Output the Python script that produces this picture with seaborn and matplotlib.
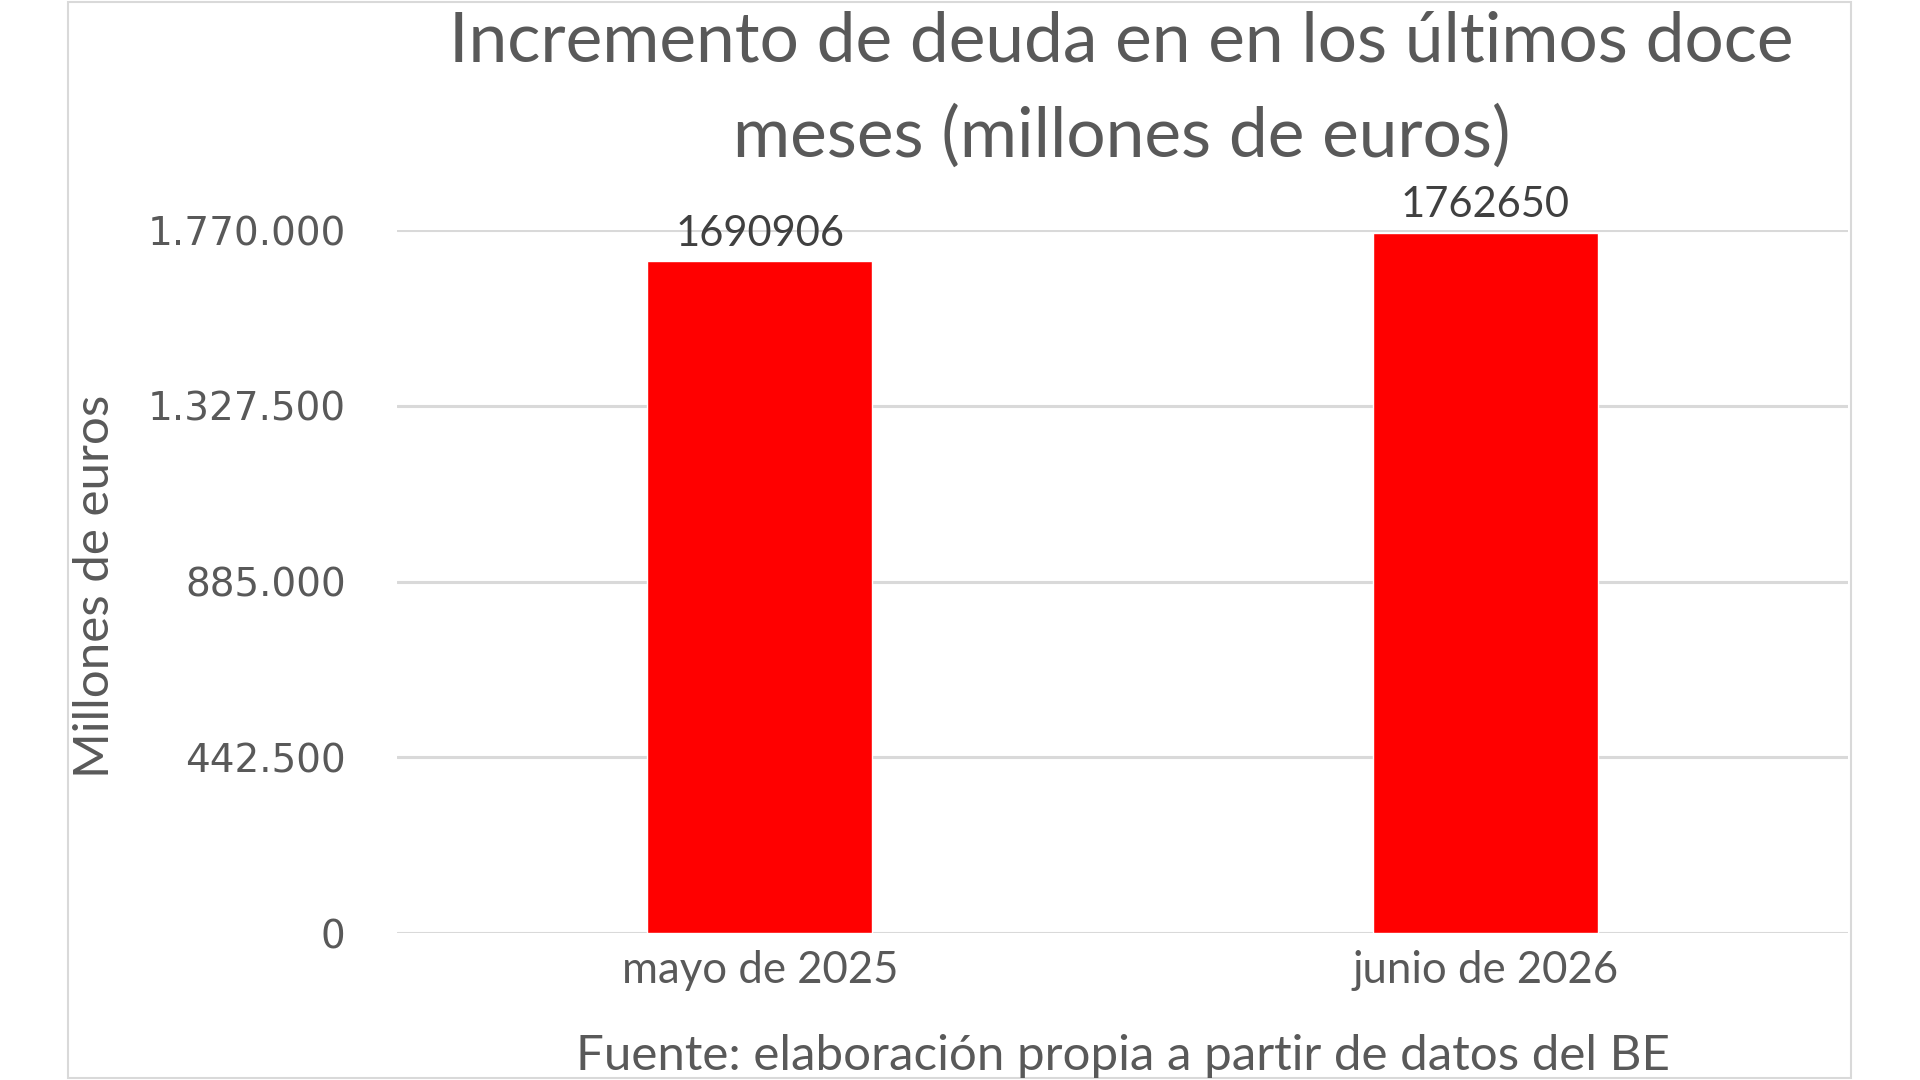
import pandas as pd
import matplotlib.pyplot as plt
import seaborn as sns
from matplotlib.patches import Rectangle
from matplotlib.ticker import FixedLocator

# Data
meses = ['mayo de 2025', 'junio de 2026']
deuda = [1690906, 1762650]
ticks_y = [0, 442500, 885000, 1327500, 1770000]
ticks_y_txt = ['0', '442.500', '885.000', '1.327.500', '1.770.000']

df = pd.DataFrame({'Mes': meses, 'Deuda': deuda})

sns.set_theme(style='white')
plt.rcParams['font.family'] = ['Lato', 'DejaVu Sans']

gris = '#595959'

fig = plt.figure(figsize=(19.2, 10.8), dpi=100)
ax = fig.add_axes([0.2068, 0.136, 0.7557, 0.651])

sns.barplot(x='Mes', y='Deuda', data=df, color='#FF0000', width=0.31,
            saturation=1, ax=ax)

ax.set_ylim(0, 1770000)
ax.set_xlim(-0.5, 1.5)
ax.yaxis.set_major_locator(FixedLocator(ticks_y))
ax.set_yticklabels(ticks_y_txt, family='DejaVu Sans', fontsize=28, color=gris)
ax.tick_params(axis='y', length=0, pad=37)
ax.tick_params(axis='x', length=0, pad=12, labelsize=31.5, labelcolor=gris)
ax.grid(axis='y', color='#D9D9D9', linewidth=2.2)
ax.set_axisbelow(True)
for s in ax.spines.values():
    s.set_visible(False)
ax.set_xlabel('')
ax.set_ylabel('')

# Data labels above the bars
for p, v in zip(ax.patches, deuda):
    ax.text(p.get_x() + p.get_width() / 2, v + 22000, str(v),
            ha='center', va='bottom', fontsize=30, color='#404040',
            clip_on=False)

fig.text(0.584, 0.917,
         'Incremento de deuda en en los últimos doce\nmeses (millones de euros)',
         ha='center', va='center', fontsize=50, color=gris, linespacing=1.6)
fig.text(0.0495, 0.4574, 'Millones de euros', rotation=90, ha='center',
         va='center', fontsize=35.5, color=gris)
fig.text(0.585, 0.022, 'Fuente: elaboración propia a partir de datos del BE',
         ha='center', va='center', fontsize=35.5, color=gris)

# Chart frame
fig.patches.append(Rectangle((68 / 1920, 0.002), (1851 - 68) / 1920, 0.996,
                             transform=fig.transFigure, fill=False,
                             edgecolor='#D9D9D9', linewidth=1.5))

plt.savefig('out.png', dpi=100)
